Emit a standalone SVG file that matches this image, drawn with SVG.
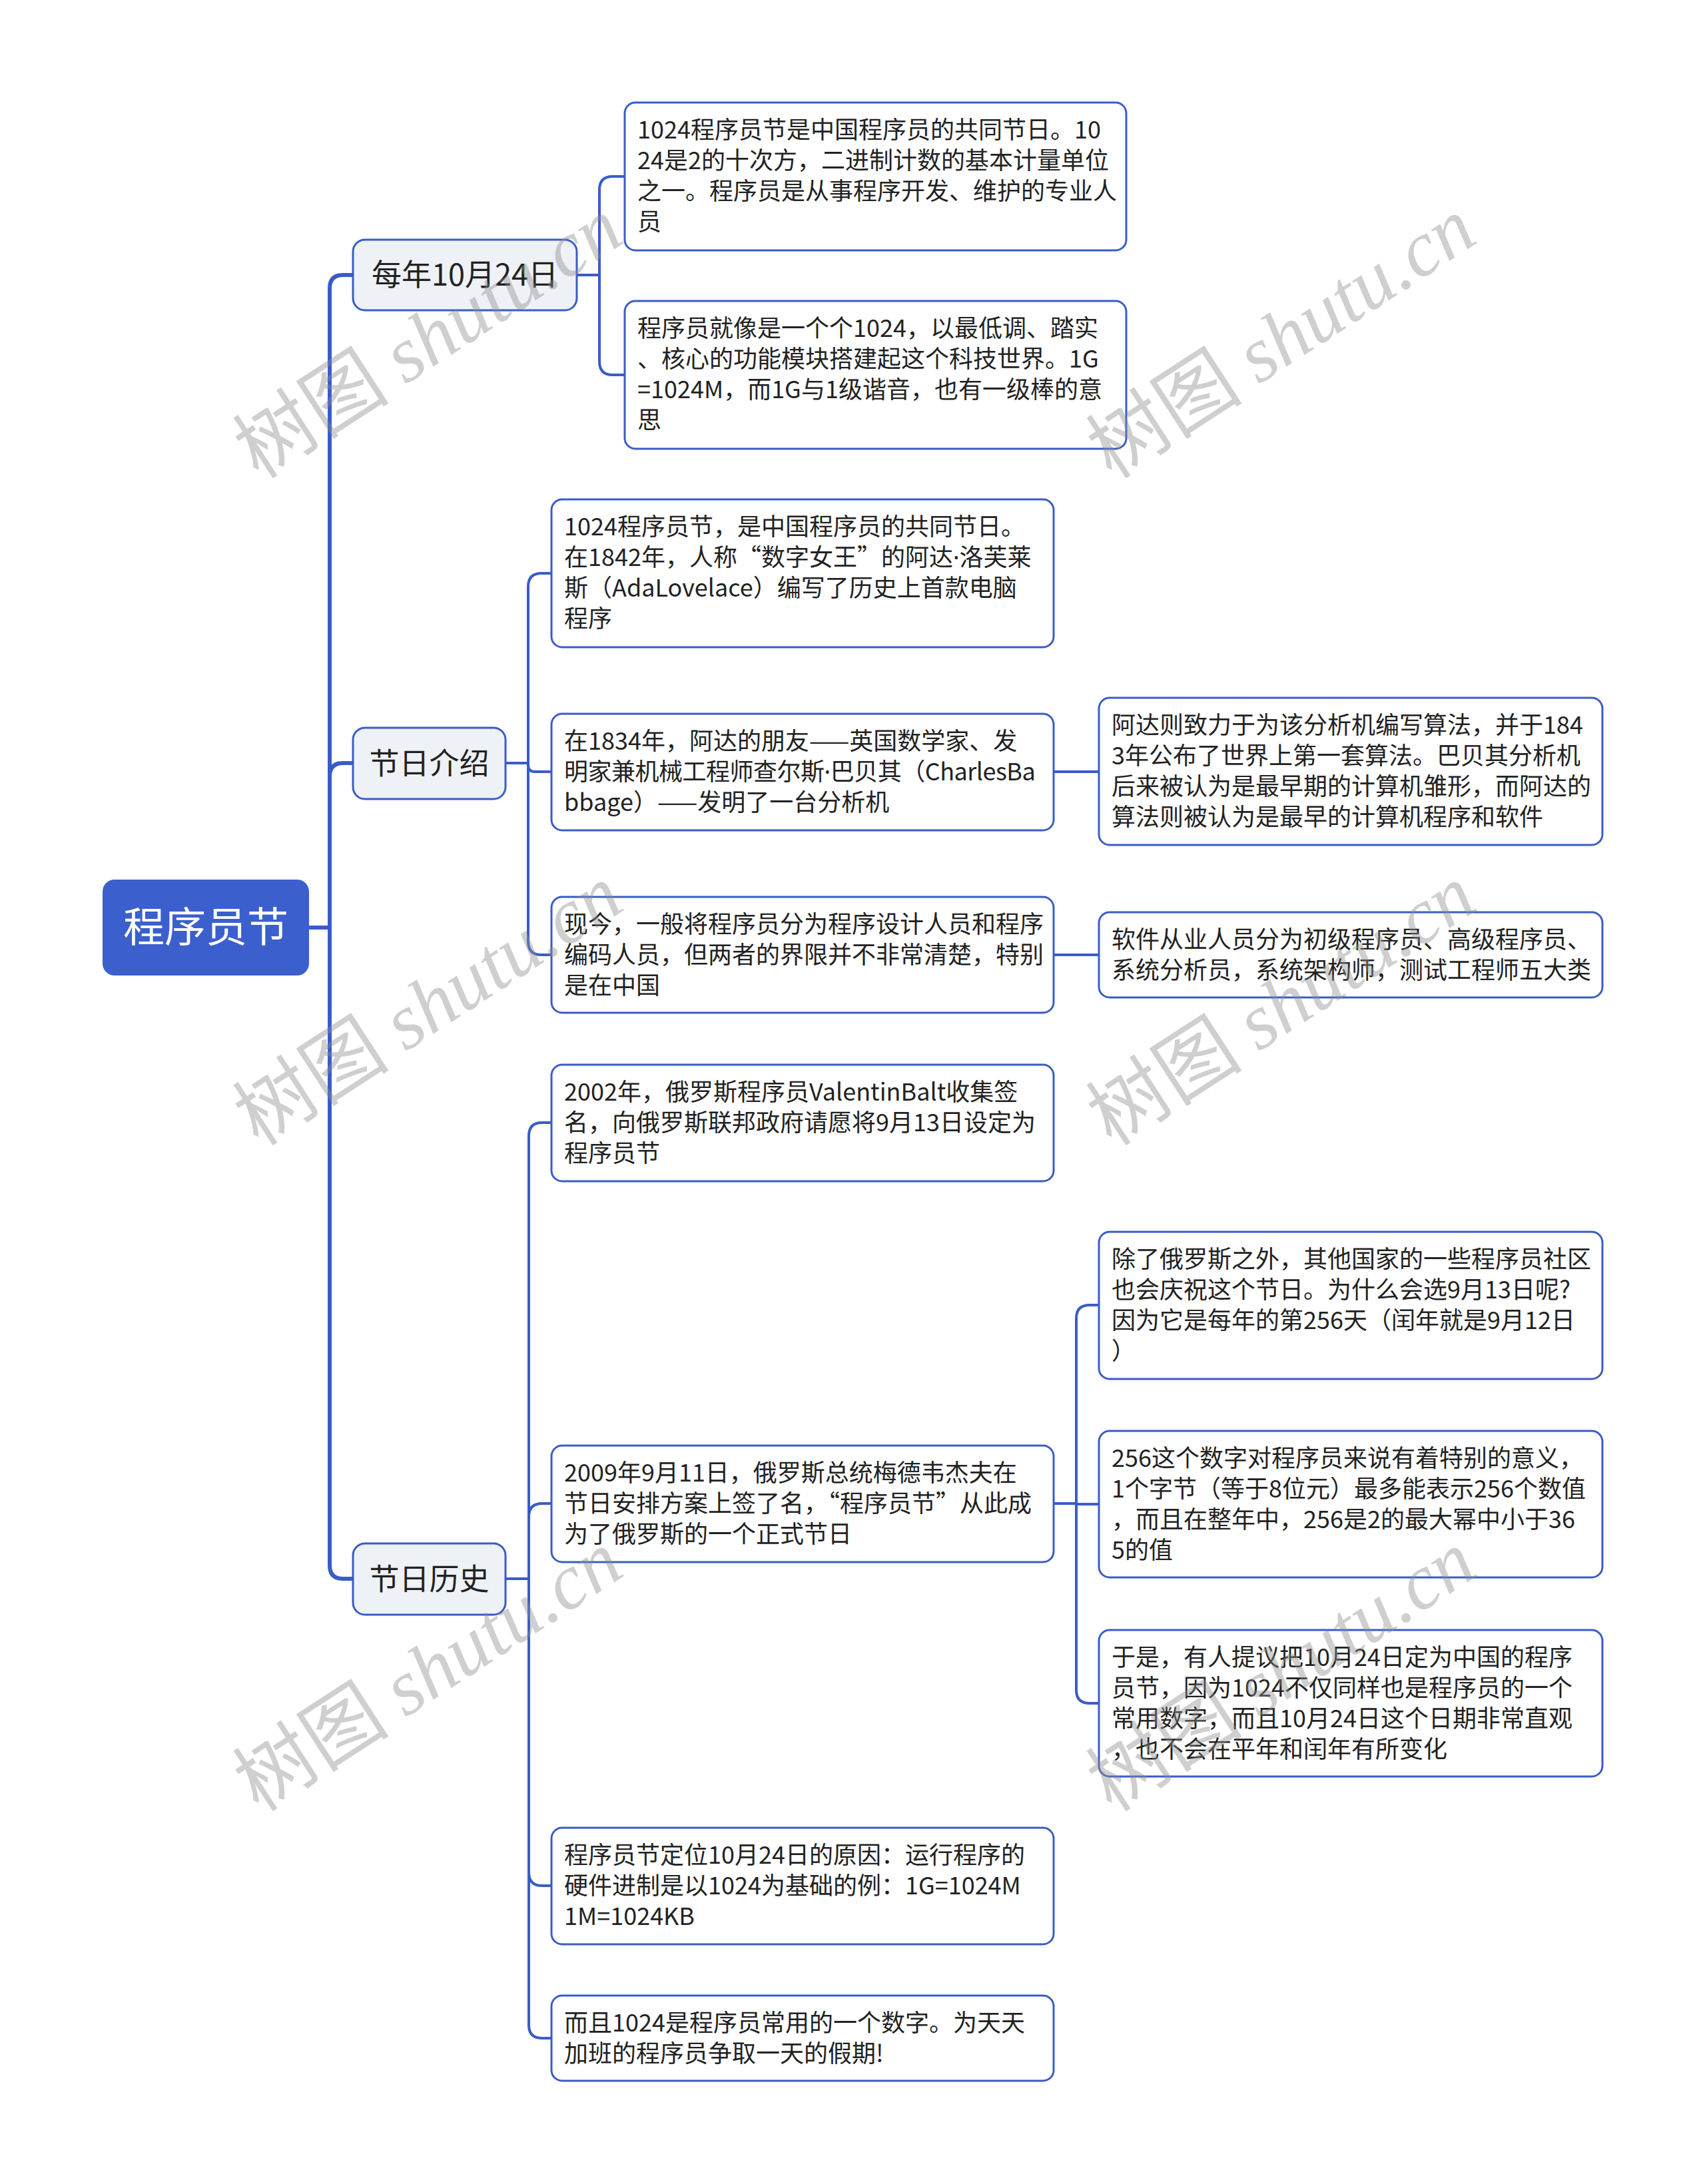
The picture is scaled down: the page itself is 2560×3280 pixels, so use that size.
<svg xmlns="http://www.w3.org/2000/svg" width="2560" height="3280" viewBox="0 0 2560 3280">
<style>
.bg{fill:#ffffff}
.box{fill:#ffffff;stroke:#3a5cc8;stroke-width:3}
.l1{fill:#eef1f6;stroke:#3a5cc8;stroke-width:3}
.root{fill:#3b5fcd}
.t{font-family:'Noto Sans CJK SC','Noto Sans',sans-serif;font-size:36px;fill:#222222}
.t1{font-family:'Noto Sans CJK SC','Noto Sans',sans-serif;font-size:45px;fill:#222222;text-anchor:middle}
.t0{font-family:'Noto Sans CJK SC','Noto Sans',sans-serif;font-size:62px;fill:#ffffff;text-anchor:middle}
.dot{font-family:'Noto Sans',sans-serif}
.c{fill:none;stroke:#3a5cc8;stroke-width:4;stroke-linecap:round;stroke-linejoin:round}
.ct{fill:none;stroke:#3a5cc8;stroke-width:6;stroke-linecap:round;stroke-linejoin:round}
.wm{font-size:118px;fill:#8c8c8c;fill-opacity:0.42;text-anchor:middle}
.wmc{font-family:'Noto Sans CJK SC',sans-serif}
.wml{font-family:'Liberation Serif',serif;font-style:italic}
</style>
<rect class="bg" x="0" y="0" width="2560" height="3280"/>

<g id="connectors">
  <path class="ct" d="M464,1393 H495"/>
  <path class="ct" d="M495,1393 V433 Q495,413 515,413 H530"/>
  <path class="ct" d="M495,1393 V1166 Q495,1146 515,1146 H530"/>
  <path class="ct" d="M495,1393 V2351 Q495,2371 515,2371 H529"/>

  <path class="c" d="M866,413 H900"/>
  <path class="c" d="M900,413 V285 Q900,265 920,265 H938"/>
  <path class="c" d="M900,413 V543 Q900,563 920,563 H938"/>

  <path class="c" d="M759,1146 H793"/>
  <path class="c" d="M793,1146 V881 Q793,861 813,861 H828"/>
  <path class="c" d="M793,1146 V1149 Q793,1159 803,1159 H828"/>
  <path class="c" d="M793,1146 V1414 Q793,1434 813,1434 H828"/>

  <path class="c" d="M1582,1159 H1650"/>
  <path class="c" d="M1582,1434 H1650"/>

  <path class="c" d="M759,2371 H794"/>
  <path class="c" d="M794,2371 V1706 Q794,1686 814,1686 H828"/>
  <path class="c" d="M794,2371 V2278 Q794,2258 814,2258 H828"/>
  <path class="c" d="M794,2371 V2812 Q794,2832 814,2832 H828"/>
  <path class="c" d="M794,2371 V3041 Q794,3061 814,3061 H828"/>

  <path class="c" d="M1582,2258 H1616"/>
  <path class="c" d="M1616,2258 V1980 Q1616,1960 1636,1960 H1650"/>
  <path class="c" d="M1616,2258 V2259 H1650"/>
  <path class="c" d="M1616,2258 V2538 Q1616,2558 1636,2558 H1650"/>
</g>

<g id="root">
  <rect class="root" x="154" y="1321" width="310" height="144" rx="18"/>
  <text class="t0" x="309" y="1415">程序员节</text>
</g>

<g id="n-meinian">
  <rect class="l1" x="530" y="360" width="336" height="106" rx="18"/>
  <text class="t1" x="698" y="429">每年10月24日</text>
</g>
<g id="n-jieri-jieshao">
  <rect class="l1" x="530" y="1093" width="229" height="107" rx="18"/>
  <text class="t1" x="644.5" y="1163">节日介绍</text>
</g>
<g id="n-jieri-lishi">
  <rect class="l1" x="530" y="2318" width="229" height="107" rx="18"/>
  <text class="t1" x="644.5" y="2388">节日历史</text>
</g>

<g id="n-a1">
  <rect class="box" x="938" y="154" width="753" height="222" rx="16"/>
  <text class="t"><tspan x="957" y="208">1024程序员节是中国程序员的共同节日。10</tspan><tspan x="957" y="254">24是2的十次方，二进制计数的基本计量单位</tspan><tspan x="957" y="300">之一。程序员是从事程序开发、维护的专业人</tspan><tspan x="957" y="346">员</tspan></text>
</g>
<g id="n-a2">
  <rect class="box" x="938" y="452" width="753" height="222" rx="16"/>
  <text class="t"><tspan x="957" y="506">程序员就像是一个个1024，以最低调、踏实</tspan><tspan x="957" y="552">、核心的功能模块搭建起这个科技世界。1G</tspan><tspan x="957" y="598">=1024M，而1G与1级谐音，也有一级棒的意</tspan><tspan x="957" y="644">思</tspan></text>
</g>

<g id="n-b1">
  <rect class="box" x="828" y="750" width="754" height="222" rx="16"/>
  <text class="t"><tspan x="847" y="804">1024程序员节，是中国程序员的共同节日。</tspan><tspan x="847" y="850">在1842年，人称“数字女王”的阿达<tspan class="dot">·</tspan>洛芙莱</tspan><tspan x="847" y="896">斯（AdaLovelace）编写了历史上首款电脑</tspan><tspan x="847" y="942">程序</tspan></text>
</g>
<g id="n-b2">
  <rect class="box" x="828" y="1072" width="754" height="175" rx="16"/>
  <text class="t"><tspan x="847" y="1126">在1834年，阿达的朋友——英国数学家、发</tspan><tspan x="847" y="1172" letter-spacing="-0.5">明家兼机械工程师查尔斯<tspan class="dot">·</tspan>巴贝其（CharlesBa</tspan><tspan x="847" y="1218">bbage）——发明了一台分析机</tspan></text>
</g>
<g id="n-b3">
  <rect class="box" x="828" y="1347" width="754" height="174" rx="16"/>
  <text class="t"><tspan x="847" y="1401">现今，一般将程序员分为程序设计人员和程序</tspan><tspan x="847" y="1447">编码人员，但两者的界限并不非常清楚，特别</tspan><tspan x="847" y="1493">是在中国</tspan></text>
</g>
<g id="n-b2c">
  <rect class="box" x="1650" y="1048" width="756" height="221" rx="16"/>
  <text class="t"><tspan x="1669" y="1102">阿达则致力于为该分析机编写算法，并于184</tspan><tspan x="1669" y="1148">3年公布了世界上第一套算法。巴贝其分析机</tspan><tspan x="1669" y="1194">后来被认为是最早期的计算机雏形，而阿达的</tspan><tspan x="1669" y="1240">算法则被认为是最早的计算机程序和软件</tspan></text>
</g>
<g id="n-b3c">
  <rect class="box" x="1650" y="1370" width="756" height="128" rx="16"/>
  <text class="t"><tspan x="1669" y="1424">软件从业人员分为初级程序员、高级程序员、</tspan><tspan x="1669" y="1470">系统分析员，系统架构师，测试工程师五大类</tspan></text>
</g>

<g id="n-c1">
  <rect class="box" x="828" y="1599" width="754" height="175" rx="16"/>
  <text class="t"><tspan x="847" y="1653">2002年，俄罗斯程序员ValentinBalt收集签</tspan><tspan x="847" y="1699">名，向俄罗斯联邦政府请愿将9月13日设定为</tspan><tspan x="847" y="1745">程序员节</tspan></text>
</g>
<g id="n-c2">
  <rect class="box" x="828" y="2171" width="754" height="175" rx="16"/>
  <text class="t"><tspan x="847" y="2225">2009年9月11日，俄罗斯总统梅德韦杰夫在</tspan><tspan x="847" y="2271">节日安排方案上签了名，“程序员节”从此成</tspan><tspan x="847" y="2317">为了俄罗斯的一个正式节日</tspan></text>
</g>
<g id="n-c3">
  <rect class="box" x="828" y="2745" width="754" height="175" rx="16"/>
  <text class="t"><tspan x="847" y="2799">程序员节定位10月24日的原因：运行程序的</tspan><tspan x="847" y="2845">硬件进制是以1024为基础的例：1G=1024M</tspan><tspan x="847" y="2891">1M=1024KB</tspan></text>
</g>
<g id="n-c4">
  <rect class="box" x="828" y="2997" width="754" height="128" rx="16"/>
  <text class="t"><tspan x="847" y="3051">而且1024是程序员常用的一个数字。为天天</tspan><tspan x="847" y="3097">加班的程序员争取一天的假期!</tspan></text>
</g>

<g id="n-d1">
  <rect class="box" x="1650" y="1850" width="756" height="221" rx="16"/>
  <text class="t"><tspan x="1669" y="1904">除了俄罗斯之外，其他国家的一些程序员社区</tspan><tspan x="1669" y="1950">也会庆祝这个节日。为什么会选9月13日呢?</tspan><tspan x="1669" y="1996">因为它是每年的第256天（闰年就是9月12日</tspan><tspan x="1669" y="2042">）</tspan></text>
</g>
<g id="n-d2">
  <rect class="box" x="1650" y="2149" width="756" height="220" rx="16"/>
  <text class="t"><tspan x="1669" y="2203">256这个数字对程序员来说有着特别的意义，</tspan><tspan x="1669" y="2249">1个字节（等于8位元）最多能表示256个数值</tspan><tspan x="1669" y="2295">，而且在整年中，256是2的最大幂中小于36</tspan><tspan x="1669" y="2341">5的值</tspan></text>
</g>
<g id="n-d3">
  <rect class="box" x="1650" y="2448" width="756" height="220" rx="16"/>
  <text class="t"><tspan x="1669" y="2502">于是，有人提议把10月24日定为中国的程序</tspan><tspan x="1669" y="2548">员节，因为1024不仅同样也是程序员的一个</tspan><tspan x="1669" y="2594">常用数字，而且10月24日这个日期非常直观</tspan><tspan x="1669" y="2640">，也不会在平年和闰年有所变化</tspan></text>
</g>

<g id="watermarks">
  <text class="wm" transform="translate(643,508) rotate(-33)" y="40"><tspan class="wmc">树图 </tspan><tspan class="wml">shutu.cn</tspan></text>
  <text class="wm" transform="translate(1924,508) rotate(-33)" y="40"><tspan class="wmc">树图 </tspan><tspan class="wml">shutu.cn</tspan></text>
  <text class="wm" transform="translate(643,1510) rotate(-33)" y="40"><tspan class="wmc">树图 </tspan><tspan class="wml">shutu.cn</tspan></text>
  <text class="wm" transform="translate(1924,1510) rotate(-33)" y="40"><tspan class="wmc">树图 </tspan><tspan class="wml">shutu.cn</tspan></text>
  <text class="wm" transform="translate(643,2510) rotate(-33)" y="40"><tspan class="wmc">树图 </tspan><tspan class="wml">shutu.cn</tspan></text>
  <text class="wm" transform="translate(1924,2510) rotate(-33)" y="40"><tspan class="wmc">树图 </tspan><tspan class="wml">shutu.cn</tspan></text>
</g>
</svg>
